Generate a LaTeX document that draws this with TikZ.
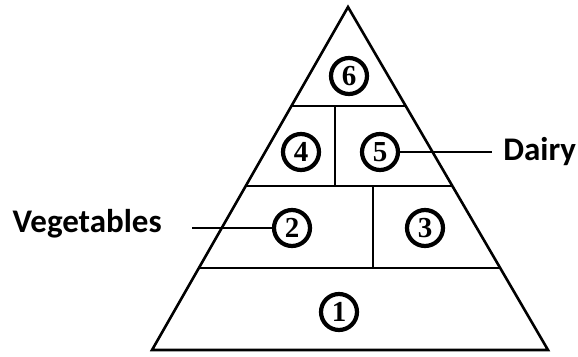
\documentclass[tikz,border=0pt]{standalone}
\usepackage{fontspec}
\setmainfont{Carlito}
\newfontfamily\numfont{Liberation Serif}
\usetikzlibrary{calc,positioning}

\begin{document}
\begin{tikzpicture}[x=1pt,y=-1pt,line width=2.6pt,
      num/.style={circle,draw,line width=4.2pt,inner sep=0pt,minimum size=36pt,
        font=\numfont\bfseries\fontsize{29}{29}\selectfont},
      tag/.style={inner sep=0pt,font=\bfseries\fontsize{33}{33}\selectfont},
      leader/.style={line width=2.6pt}]
    \useasboundingbox (0,0) rectangle (578,356);
    % pyramid outline
    \coordinate (apex) at (348,7);
    \coordinate (bl) at (152,350);
    \coordinate (br) at (548,350);
    \draw[line join=miter] (apex) -- (bl) -- (br) -- cycle;
    % tiers
    \foreach \t in {.289,.522,.761}
      \draw ($(apex)!\t!(bl)$) -- ($(apex)!\t!(br)$);
    \draw (335,106) -- (335,186);
    \draw (373,186) -- (373,268);
    % numbered groups
    \node[num] (n6) at (349,76) {6};
    \node[num] (n4) at (301,152) {4};
    \node[num] (n5) at (380,152) {5};
    \node[num] (n2) at (292,228) {2};
    \node[num] (n3) at (425,228) {3};
    \node[num] (n1) at (339,312) {1};
    % labels
    \node[tag,anchor=west] (dairy) at (502,152) {Dairy};
    \node[tag,anchor=east] (veg) at (163,224) {Vegetables};
    \coordinate (dairyend) at (492,152);
    \coordinate (vegend) at (192,228);
    \draw[leader] (n5) -- (dairyend);
    \draw[leader] (vegend) -- (n2);
  \end{tikzpicture}
\end{document}
